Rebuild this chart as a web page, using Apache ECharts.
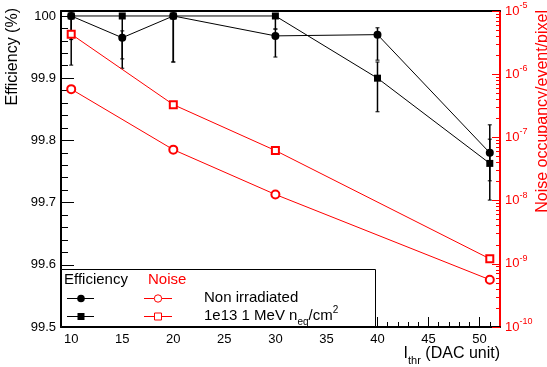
<!DOCTYPE html>
<html>
<head>
<meta charset="utf-8">
<script src="https://cdn.jsdelivr.net/npm/echarts@6/dist/echarts.min.js"></script>
<style>
html,body{margin:0;padding:0;background:#fff;}
#chart{width:547px;height:367px;}
</style>
</head>
<body>
<div id="chart"></div>
<script>
// ---- data ----
const xEff = [10, 15, 20, 30, 40, 51];
const effNonIrr     = [100,    99.965, 100,    99.968, 99.970, 99.780];
const effNonIrrLow  = [99.962, 99.931, 99.926, 99.934, 99.929, 99.735];
const effNonIrrHigh = [100,    99.976, 100,    99.979, 99.981, 99.825];
const effIrr        = [100,    100,    100,    100,    99.900, 99.763];
const effIrrLow     = [99.921, 99.916, 99.926, 99.979, 99.846, 99.704];
const effIrrHigh    = [100,    100,    100,    100,    99.926, 99.802];

const xNoise = [10, 20, 30, 51];
const noiseNonIrr = [5.8e-7, 6.4e-8, 1.25e-8, 5.6e-10];
const noiseIrr    = [4.3e-6, 3.3e-7, 6.2e-8, 1.2e-9];

const xTicks = [10, 15, 20, 25, 30, 35, 40, 45, 50];
const effTicks = [99.5, 99.6, 99.7, 99.8, 99.9, 100];
const noiseTicks = [1e-10, 1e-9, 1e-8, 1e-7, 1e-6, 1e-5];

// minor tick values
const xMinor = [];
for (let v = 10; v <= 51; v++) xMinor.push(v);
const effMinor = [];
for (let i = 0; i <= 25; i++) effMinor.push(+(99.5 + i * 0.02).toFixed(2));
const noiseMinor = [];
for (let e = -10; e < -5; e++) for (let m = 2; m <= 9; m++) noiseMinor.push(m * Math.pow(10, e));

const RED = '#ff0000';
const FONT = '"Liberation Sans", Arial, Helvetica, sans-serif';

function pts(xs, ys) { return xs.map((x, i) => [x, ys[i]]); }
function errs(xs, ys, lo, hi) { return xs.map((x, i) => [x, ys[i], lo[i], hi[i]]); }

function errRender(params, api) {
  const x = api.value(0), y = api.value(1), lo = api.value(2), hi = api.value(3);
  const pLo = api.coord([x, lo]);
  const pHi = api.coord([x, hi]);
  const st = { stroke: '#000', lineWidth: 1.5 };
  const children = [{ type: 'line', shape: { x1: pLo[0], y1: pLo[1], x2: pHi[0], y2: pHi[1] }, style: st }];
  if (Math.abs(lo - y) > 1e-9) children.push({ type: 'line', shape: { x1: pLo[0] - 2, y1: pLo[1], x2: pLo[0] + 2, y2: pLo[1] }, style: { stroke: '#000', lineWidth: 1 } });
  if (Math.abs(hi - y) > 1e-9) children.push({ type: 'line', shape: { x1: pHi[0] - 2, y1: pHi[1], x2: pHi[0] + 2, y2: pHi[1] }, style: { stroke: '#000', lineWidth: 1 } });
  return { type: 'group', children: children };
}

const chart = echarts.init(document.getElementById('chart'), null, { renderer: 'canvas' });

const baseX = { type: 'value', min: 9, max: 52, splitLine: { show: false } };
const baseEff = { type: 'value', min: 99.5, max: 100.008, splitLine: { show: false } };
const baseNoise = { type: 'log', logBase: 10, min: 1e-10, max: 1e-5, splitLine: { show: false } };

const option = {
  animation: false,
  backgroundColor: '#fff',
  textStyle: { fontFamily: FONT },
  grid: { left: 61, right: 47, top: 11, bottom: 40, outerBoundsMode: 'none', containLabel: false },
  xAxis: [
    Object.assign({}, baseX, {
      position: 'bottom',
      axisLine: { show: true, onZero: false, lineStyle: { color: '#000', width: 2 } },
      axisTick: { show: true, inside: true, length: 10, customValues: xTicks, lineStyle: { color: '#000', width: 1 } },
      axisLabel: { show: true, customValues: xTicks, color: '#000', fontSize: 13, fontFamily: FONT, margin: 6 }
    }),
    Object.assign({}, baseX, {
      position: 'bottom', offset: 0,
      axisLine: { show: false, onZero: false },
      axisTick: { show: true, inside: true, length: 5, customValues: xMinor, lineStyle: { color: '#000', width: 1 } },
      axisLabel: { show: false }
    }),
    Object.assign({}, baseX, {
      position: 'top', offset: 0,
      axisLine: { show: true, onZero: false, lineStyle: { color: '#000', width: 2 } },
      axisTick: { show: false },
      axisLabel: { show: false }
    })
  ],
  yAxis: [
    Object.assign({}, baseEff, {
      position: 'left',
      axisLine: { show: true, onZero: false, lineStyle: { color: '#000', width: 2 } },
      axisTick: { show: true, inside: true, length: 13, customValues: effTicks, lineStyle: { color: '#000', width: 1 } },
      axisLabel: { show: true, customValues: effTicks, color: '#000', fontSize: 13, fontFamily: FONT, margin: 5,
        formatter: function (v) { return Math.abs(v - 100) < 1e-6 ? '100' : v.toFixed(1); } }
    }),
    Object.assign({}, baseNoise, {
      position: 'right',
      axisLine: { show: true, onZero: false, lineStyle: { color: RED, width: 2 } },
      axisTick: { show: true, inside: true, length: 8, customValues: noiseTicks, lineStyle: { color: RED, width: 1 } },
      axisLabel: { show: true, customValues: noiseTicks, margin: 5,
        formatter: function (v) { return '{b|10}{e|' + Math.round(Math.log10(v)) + '}'; },
        rich: {
          b: { fontSize: 13, color: RED, fontFamily: FONT, lineHeight: 20, verticalAlign: 'middle' },
          e: { fontSize: 9, color: RED, fontFamily: FONT, lineHeight: 9, verticalAlign: 'top' }
        } }
    }),
    Object.assign({}, baseEff, {
      position: 'left', offset: 0,
      axisLine: { show: false, onZero: false },
      axisTick: { show: true, inside: true, length: 7, customValues: effMinor, lineStyle: { color: '#000', width: 1 } },
      axisLabel: { show: false }
    }),
    Object.assign({}, baseNoise, {
      position: 'right', offset: 0,
      axisLine: { show: false, onZero: false },
      axisTick: { show: true, inside: true, length: 4, customValues: noiseMinor, lineStyle: { color: RED, width: 1 } },
      axisLabel: { show: false }
    })
  ],
  series: [
    { type: 'custom', name: 'errNonIrr', xAxisIndex: 0, yAxisIndex: 0, renderItem: errRender,
      encode: { x: 0, y: [1, 2, 3] }, data: errs(xEff, effNonIrr, effNonIrrLow, effNonIrrHigh), z: 3, silent: true },
    { type: 'custom', name: 'errIrr', xAxisIndex: 0, yAxisIndex: 0, renderItem: errRender,
      encode: { x: 0, y: [1, 2, 3] }, data: errs(xEff, effIrr, effIrrLow, effIrrHigh), z: 3, silent: true },
    { type: 'line', name: 'Efficiency non irradiated', xAxisIndex: 0, yAxisIndex: 0, data: pts(xEff, effNonIrr),
      symbol: 'circle', symbolSize: 8, clip: false,
      lineStyle: { color: '#000', width: 1 }, itemStyle: { color: '#000' }, z: 4 },
    { type: 'line', name: 'Efficiency irradiated', xAxisIndex: 0, yAxisIndex: 0, data: pts(xEff, effIrr),
      symbol: 'rect', symbolSize: 7, clip: false,
      lineStyle: { color: '#000', width: 1 }, itemStyle: { color: '#000' }, z: 4 },
    { type: 'line', name: 'Noise non irradiated', xAxisIndex: 0, yAxisIndex: 1, data: pts(xNoise, noiseNonIrr),
      symbol: 'emptyCircle', symbolSize: 8,
      lineStyle: { color: RED, width: 1 }, itemStyle: { color: RED, borderColor: RED, borderWidth: 1 }, z: 4 },
    { type: 'line', name: 'Noise irradiated', xAxisIndex: 0, yAxisIndex: 1, data: pts(xNoise, noiseIrr),
      symbol: 'emptyRect', symbolSize: 7,
      lineStyle: { color: RED, width: 1 }, itemStyle: { color: RED, borderColor: RED, borderWidth: 1 }, z: 4 }
  ],
  graphic: [
    // axis titles
    { type: 'text', x: 13, y: 8, rotation: Math.PI / 2, z: 10,
      style: { text: 'Efficiency (%)', font: '16px ' + FONT, fill: '#000', textAlign: 'right', textVerticalAlign: 'middle' } },
    { type: 'text', x: 543, y: 10, rotation: Math.PI / 2, z: 10,
      style: { text: 'Noise occupancy/event/pixel', font: '16px ' + FONT, fill: RED, textAlign: 'right', textVerticalAlign: 'middle' } },
    { type: 'text', x: 500, y: 354, z: 10,
      style: { text: '{a|I}{s|thr}{a| (DAC unit)}', textAlign: 'right', textVerticalAlign: 'middle',
        rich: {
          a: { fontSize: 16, fontFamily: FONT, fill: '#000', lineHeight: 24, verticalAlign: 'middle' },
          s: { fontSize: 11, fontFamily: FONT, fill: '#000', lineHeight: 11, verticalAlign: 'bottom' }
        } } },
    // legend box
    { type: 'rect', shape: { x: 61.5, y: 269.5, width: 314, height: 57 }, z: 20,
      style: { fill: '#fff', stroke: '#000', lineWidth: 1 } },
    { type: 'text', x: 64, y: 280, z: 21,
      style: { text: 'Efficiency', font: '15px ' + FONT, fill: '#000', textAlign: 'left', textVerticalAlign: 'middle' } },
    { type: 'text', x: 148, y: 280, z: 21,
      style: { text: 'Noise', font: '15px ' + FONT, fill: RED, textAlign: 'left', textVerticalAlign: 'middle' } },
    // row 1
    { type: 'line', shape: { x1: 67, y1: 298.5, x2: 94, y2: 298.5 }, z: 21, style: { stroke: '#000', lineWidth: 1 } },
    { type: 'circle', shape: { cx: 81, cy: 298.5, r: 3.8 }, z: 22, style: { fill: '#000' } },
    { type: 'line', shape: { x1: 144, y1: 298.5, x2: 172, y2: 298.5 }, z: 21, style: { stroke: RED, lineWidth: 1 } },
    { type: 'circle', shape: { cx: 158, cy: 298.5, r: 3.7 }, z: 22, style: { fill: '#fff', stroke: RED, lineWidth: 1 } },
    { type: 'text', x: 204, y: 298, z: 21,
      style: { text: 'Non irradiated', font: '15px ' + FONT, fill: '#000', textAlign: 'left', textVerticalAlign: 'middle' } },
    // row 2
    { type: 'line', shape: { x1: 67, y1: 316.5, x2: 94, y2: 316.5 }, z: 21, style: { stroke: '#000', lineWidth: 1 } },
    { type: 'rect', shape: { x: 77.5, y: 313, width: 7, height: 7 }, z: 22, style: { fill: '#000' } },
    { type: 'line', shape: { x1: 144, y1: 316.5, x2: 172, y2: 316.5 }, z: 21, style: { stroke: RED, lineWidth: 1 } },
    { type: 'rect', shape: { x: 154.5, y: 313, width: 7, height: 7 }, z: 22, style: { fill: '#fff', stroke: RED, lineWidth: 1 } },
    { type: 'text', x: 204, y: 316, z: 21,
      style: { text: '{a|1e13 1 MeV n}{s|eq}{a|/cm}{p|2}', textAlign: 'left', textVerticalAlign: 'middle',
        rich: {
          a: { fontSize: 15, fontFamily: FONT, fill: '#000', lineHeight: 22, verticalAlign: 'middle' },
          s: { fontSize: 10, fontFamily: FONT, fill: '#000', lineHeight: 10, verticalAlign: 'bottom' },
          p: { fontSize: 10, fontFamily: FONT, fill: '#000', lineHeight: 10, verticalAlign: 'top' }
        } } }
  ]
};
chart.setOption(option);
</script>
</body>
</html>
